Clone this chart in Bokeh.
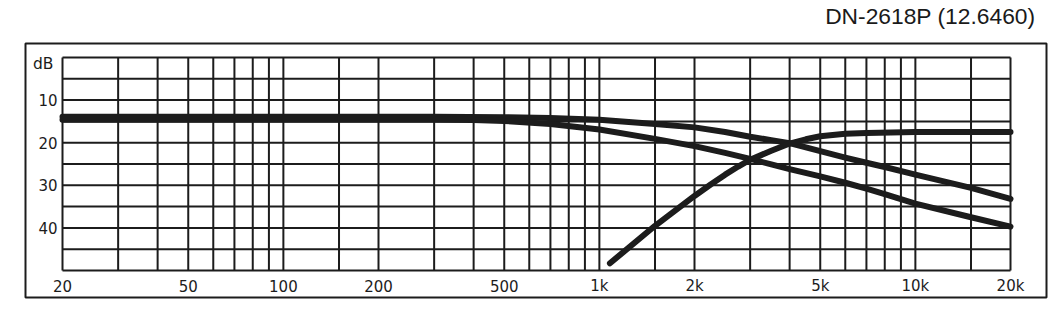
import math
from bokeh.plotting import figure
from bokeh.models import Range1d
from bokeh.core.properties import value
from bokeh.embed import file_html
from bokeh.resources import INLINE

title_text = "DN-2618P (12.6460)"

grid_freqs = [20, 30, 40, 50, 60, 70, 80, 90, 100, 150, 200, 300, 400, 500, 600, 700,
              800, 900, 1000, 1500, 2000, 3000, 4000, 5000, 6000, 7000, 8000, 9000,
              10000, 15000, 20000]
grid_db = [0, 5, 10, 15, 20, 25, 30, 35, 40, 45, 50]

x_tick_values = [20, 50, 100, 200, 500, 1000, 2000, 5000, 10000, 20000]
x_tick_labels = ["20", "50", "100", "200", "500", "1k", "2k", "5k", "10k", "20k"]
y_tick_values = [10, 20, 30, 40]
y_tick_labels = ["10", "20", "30", "40"]
unit_label = "dB"

lp1_freq = [20, 300, 500, 700, 1000, 1500, 2000, 2500, 3000, 3500, 4000, 5000, 6000,
            7000, 8000, 10000, 15000, 20000]
lp1_db = [13.9, 13.9, 14.0, 14.2, 14.6, 15.6, 16.4, 17.5, 18.6, 19.4, 20.1, 22.0, 23.5,
          24.7, 25.7, 27.5, 30.6, 33.2]

lp2_freq = [20, 300, 400, 500, 700, 1000, 1500, 2000, 2500, 3000, 3500, 4000, 5000,
            6000, 7000, 8000, 10000, 15000, 20000]
lp2_db = [14.6, 14.6, 14.7, 14.9, 15.6, 16.9, 19.1, 20.8, 22.4, 23.8, 25.1, 26.2, 27.9,
          29.4, 30.8, 32.1, 34.3, 37.5, 39.7]

hp_freq = [1080, 1500, 2000, 2250, 2500, 2750, 3000, 3500, 4000, 4500, 5000, 6000,
           7000, 10000, 20000]
hp_db = [48.3, 39.5, 32.5, 29.8, 27.5, 25.6, 24.0, 21.9, 20.2, 19.2, 18.5, 17.9,
         17.7, 17.5, 17.5]

# ---- layout geometry (pixels) ----
W, H = 1060, 327
in_l, in_r, in_t, in_b = 62, 1010, 57, 270          # inner chart area
box_l, box_r, box_t, box_b = 25, 1046, 43, 297      # outer frame box
title_px_x, title_px_y = 1035, 15                   # right end / middle of title

f_lo, f_hi = grid_freqs[0], grid_freqs[-1]
db_lo, db_hi = grid_db[0], grid_db[-1]
ppd = (in_r - in_l) / (math.log10(f_hi) - math.log10(f_lo))
ppdb = (in_b - in_t) / (db_hi - db_lo)


def px_to_f(px):
    return 10 ** (math.log10(f_lo) + (px - in_l) / ppd)


def px_to_db(py):
    return db_lo + (py - in_t) / ppdb


ink = "#1c1c1c"

p = figure(width=W, height=H, x_axis_type="log",
           x_range=Range1d(px_to_f(0), px_to_f(W)),
           y_range=Range1d(px_to_db(H), px_to_db(0)),
           x_axis_location=None, y_axis_location=None,
           toolbar_location=None, output_backend="svg",
           min_border=0, min_border_left=0, min_border_right=0,
           min_border_top=0, min_border_bottom=0,
           background_fill_color="white", border_fill_color="white")
p.xgrid.visible = False
p.ygrid.visible = False
p.outline_line_color = None

# outer box
p.quad(left=[px_to_f(box_l)], right=[px_to_f(box_r)], top=[px_to_db(box_t)],
       bottom=[px_to_db(box_b)], fill_color=None, line_color=ink, line_width=2)

# grid
p.segment(x0=grid_freqs, y0=[db_lo] * len(grid_freqs), x1=grid_freqs,
          y1=[db_hi] * len(grid_freqs), line_color=ink, line_width=2)
p.segment(x0=[f_lo] * len(grid_db), y0=grid_db, x1=[f_hi] * len(grid_db), y1=grid_db,
          line_color=ink, line_width=2)

# curves
for fx, dy in ((lp1_freq, lp1_db), (lp2_freq, lp2_db), (hp_freq, hp_db)):
    p.line(fx, dy, line_color=ink, line_width=6, line_cap="round", line_join="round")

# tick labels
p.text(x=x_tick_values, y=[db_hi] * len(x_tick_values), text=x_tick_labels,
       text_font=value("DejaVu Sans"), text_font_size="15px", text_color=ink,
       text_align="center", text_baseline="middle", y_offset=15)
p.text(x=[f_lo] * len(y_tick_values), y=y_tick_values, text=y_tick_labels,
       text_font=value("DejaVu Sans"), text_font_size="15px", text_color=ink,
       text_align="right", text_baseline="middle", x_offset=-5)
p.text(x=[f_lo], y=[db_lo], text=[unit_label],
       text_font=value("DejaVu Sans"), text_font_size="15.5px", text_color=ink,
       text_align="right", text_baseline="middle", x_offset=-9, y_offset=6)

# title
p.text(x=[px_to_f(title_px_x)], y=[px_to_db(title_px_y)], text=[title_text],
       text_font=value("Liberation Sans"), text_font_size="22.8px", text_color="#1a1a1a",
       text_align="right", text_baseline="middle")

open("out.html", "w").write(file_html(p, INLINE))
